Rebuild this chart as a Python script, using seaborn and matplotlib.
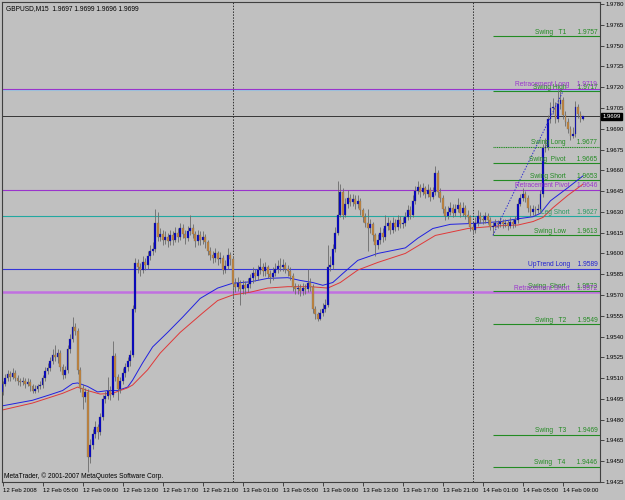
import numpy as np
import pandas as pd
import matplotlib
matplotlib.use("Agg")
import matplotlib.pyplot as plt
import matplotlib.transforms as mtransforms
import seaborn as sns

symbol_title = "GBPUSD,M15  1.9697 1.9699 1.9696 1.9699"
copyright_text = "MetaTrader, \u00a9 2001-2007 MetaQuotes Software Corp."

# prices in pips above 1.9400, one M15 bar each, 12 Feb 01:00 .. 14 Feb 11:00
base_price = 1.9400
pip = 0.0001
first_open_pips = 100
close_pips = [
    106, 110, 113, 111, 114, 110, 108, 107, 108, 106, 107, 104, 101, 102, 104, 105,
    110, 115, 117, 122, 127, 125, 128, 118, 112, 116,
    131, 138, 147, 144, 116, 103, 96, 100, 53, 62,
    70, 75, 71, 82, 95, 97, 101, 98, 126, 111,
    102, 108, 114, 118, 122, 127, 160, 193, 190, 188,
    194, 192, 198, 202, 203, 222, 212, 214, 210, 212,
    209, 213, 210, 215, 212, 218, 214, 211, 216, 218,
    214, 209, 213, 210, 212, 208, 202, 199, 197, 200,
    196, 197, 188, 191, 199, 196, 178, 176, 179, 174,
    177, 175, 178, 182, 186, 184, 188, 190, 187, 190,
    185, 183, 186, 189, 191, 190, 192, 189, 187, 184,
    176, 174, 175, 173, 175, 174, 179, 176, 160, 156,
    153, 157, 160, 163, 190, 192, 203, 215, 228, 244,
    228, 236, 240, 237, 239, 236, 238, 231, 226, 222,
    218, 221, 213, 206, 210, 215, 212, 220, 222, 217,
    222, 219, 224, 221, 222, 226, 231, 228, 238, 245,
    248, 244, 247, 243, 246, 241, 244, 258, 244, 240,
    232, 227, 230, 233, 229, 232, 235, 229, 233, 228,
    226, 219, 217, 222, 227, 225, 224, 227, 224, 219,
    220, 222, 221, 223, 221, 222, 220, 223, 221, 224,
    236, 240, 243, 240, 233, 230, 232, 231, 232, 243,
    276, 277, 297, 305, 306, 297, 308, 311, 300, 295,
    290, 285, 286, 306, 301, 297, 299,
]
high_pips = [
    108, 113, 116, 115, 117, 116, 112, 110, 111, 110, 110, 109, 106, 105, 106, 108,
    112, 118, 121, 125, 131, 134, 131, 130, 120, 119,
    134, 142, 154, 150, 146, 118, 106, 103, 102, 66,
    73, 79, 77, 85, 98, 101, 111, 104, 137, 128,
    113, 111, 117, 121, 125, 130, 163, 197, 196, 193,
    198, 197, 202, 206, 208, 232, 230, 218, 217, 216,
    215, 217, 216, 219, 218, 222, 221, 217, 220, 228,
    221, 216, 217, 216, 216, 214, 210, 205, 202, 204,
    202, 201, 199, 195, 204, 201, 198, 182, 183, 181,
    181, 180, 182, 185, 190, 189, 192, 197, 193, 194,
    192, 188, 190, 193, 195, 197, 196, 194, 192, 190,
    186, 179, 178, 178, 179, 178, 189, 182, 178, 162,
    158, 160, 164, 167, 206, 198, 207, 219, 252, 250,
    247, 240, 246, 243, 243, 242, 242, 240, 233, 229,
    232, 225, 223, 215, 214, 219, 218, 228, 226, 224,
    226, 225, 228, 227, 226, 230, 235, 234, 242, 249,
    252, 250, 251, 249, 250, 248, 248, 263, 260, 247,
    242, 234, 234, 237, 236, 236, 240, 237, 237, 235,
    231, 228, 222, 226, 231, 230, 228, 230, 229, 226,
    223, 225, 224, 226, 225, 225, 224, 226, 225, 227,
    239, 243, 247, 245, 242, 235, 235, 234, 236, 246,
    279, 283, 300, 309, 312, 309, 318, 318, 313, 303,
    298, 292, 291, 310, 308, 303, 299,
]
low_pips = [
    98, 104, 108, 108, 109, 108, 105, 104, 105, 103, 104, 101, 99, 99, 100, 102,
    103, 108, 113, 115, 120, 122, 121, 115, 109, 110,
    114, 128, 136, 141, 113, 100, 88, 93, 42, 49,
    59, 67, 66, 69, 80, 92, 95, 94, 96, 108,
    94, 99, 106, 111, 115, 119, 125, 158, 186, 184,
    186, 188, 189, 195, 199, 201, 209, 209, 206, 207,
    205, 206, 206, 208, 208, 210, 211, 207, 209, 213,
    211, 205, 206, 206, 207, 204, 199, 195, 193, 194,
    192, 193, 185, 186, 189, 192, 168, 172, 173, 163,
    171, 171, 172, 175, 179, 180, 181, 185, 184, 184,
    182, 179, 181, 184, 186, 187, 187, 186, 184, 181,
    173, 171, 171, 169, 170, 171, 172, 173, 157, 153,
    151, 152, 155, 158, 161, 187, 189, 201, 213, 226,
    225, 226, 233, 234, 234, 232, 233, 228, 223, 219,
    202, 215, 209, 198, 203, 207, 208, 210, 217, 214,
    215, 216, 217, 218, 218, 220, 224, 225, 226, 236,
    243, 241, 242, 240, 241, 238, 239, 242, 241, 237,
    229, 224, 225, 228, 226, 227, 230, 226, 227, 225,
    222, 216, 214, 215, 220, 222, 221, 222, 221, 217,
    213, 218, 218, 219, 218, 219, 217, 218, 218, 219,
    222, 234, 238, 237, 230, 227, 228, 228, 229, 230,
    241, 273, 275, 294, 301, 294, 295, 304, 297, 292,
    287, 282, 283, 284, 298, 295, 296,
]

# moving averages (bar index, pips)
ma_blue_bars = [0, 12, 19, 24, 28, 30, 34, 38, 42, 46, 50, 52, 56, 60, 66, 72, 79,
                86, 92, 99, 106, 114, 119, 124, 128, 132, 136, 142, 150, 161, 166,
                172, 179, 186, 192, 199, 206, 212, 215, 219, 226, 232]
ma_blue_pips = [90, 94, 98, 101, 106, 106.5, 104, 100, 101, 101, 103.5, 108.5, 121,
                132.5, 143, 154, 167.5, 175, 178.5, 179.5, 182, 182.5, 180.5, 179,
                177, 179, 185.5, 195, 200, 204, 211, 218, 221, 221.5, 222, 223, 225,
                226.5, 229, 238, 247.5, 256]
ma_red_bars = [0, 12, 24, 30, 34, 39, 44, 50, 52, 58, 63, 71, 80, 86, 92, 99, 106,
               114, 123, 130, 135, 142, 150, 161, 173, 186, 199, 206, 212, 216, 220,
               226, 232]
ma_red_pips = [87, 92, 99, 103.5, 101, 98.5, 99, 103, 105, 116, 128, 143, 157, 166,
               170, 172, 175, 176, 176, 175, 179, 188, 193.5, 200, 213, 218, 220,
               220.5, 223, 226, 233, 242, 250]

# chart objects
swing_names = ["Swing   T1", "Swing High", "Swing Long", "Swing  Pivot", "Swing Short",
               "Swing Low", "Swing  Short", "Swing   T2", "Swing   T3", "Swing   T4"]
swing_prices = [1.9757, 1.9717, 1.9677, 1.9665, 1.9653, 1.9613, 1.9573, 1.9549, 1.9469, 1.9446]
swing_start_bar = 196
level_names = ["Retracement Long", "Retracement Pivot", "Leg Short", "UpTrend Long",
               "Retracement Short"]
level_prices = [1.9719, 1.9646, 1.9627, 1.9589, 1.9572]
pale_line_price = 1.9718
current_price = 1.9699
trend_bars = [196, 224]
trend_prices = [1.9613, 1.9717]
day_separator_bars = [92, 188]
time_label_bars = [0, 16, 32, 48, 64, 80, 96, 112, 128, 144, 160, 176, 192, 208, 224]
time_labels = ["12 Feb 2008", "12 Feb 05:00", "12 Feb 09:00", "12 Feb 13:00",
               "12 Feb 17:00", "12 Feb 21:00", "13 Feb 01:00", "13 Feb 05:00",
               "13 Feb 09:00", "13 Feb 13:00", "13 Feb 17:00", "13 Feb 21:00",
               "14 Feb 01:00", "14 Feb 05:00", "14 Feb 09:00"]
price_ticks = [1.9435, 1.9450, 1.9465, 1.9480, 1.9495, 1.9510, 1.9525, 1.9540, 1.9555,
               1.9570, 1.9585, 1.9600, 1.9615, 1.9630, 1.9645, 1.9660, 1.9675, 1.9690,
               1.9705, 1.9720, 1.9735, 1.9750, 1.9765, 1.9780]

# styles
bg = "#c0c0c0"
green = "#238b23"
violet = "#9a34cc"
level_colors = {"Retracement Long": violet, "Retracement Pivot": violet,
                "Leg Short": "#22a8a0", "UpTrend Long": "#3434d8",
                "Retracement Short": "#c070e0"}
level_widths = {"Retracement Long": 0.8, "Retracement Pivot": 0.8, "Leg Short": 0.8,
                "UpTrend Long": 0.8, "Retracement Short": 1.8}
level_text_colors = {"Retracement Long": violet, "Retracement Pivot": violet,
                     "Leg Short": "#2a9a60", "UpTrend Long": "#2020d0",
                     "Retracement Short": violet}

sns.set_theme(style="white")
plt.rcParams["font.family"] = ["Liberation Sans", "DejaVu Sans"]
fs = 4.8
tick_fs = 4.3

df = pd.DataFrame({
    "bar": np.arange(len(close_pips)),
    "close": base_price + pip * np.array(close_pips, dtype=float),
    "high": base_price + pip * np.array(high_pips, dtype=float),
    "low": base_price + pip * np.array(low_pips, dtype=float),
})
df["open"] = base_price + pip * np.array([first_open_pips] + close_pips[:-1], dtype=float)
up = df["close"] >= df["open"]

fig = plt.figure(figsize=(6.25, 5.0), dpi=100, facecolor=bg)
ax = fig.add_axes([2 / 625, 18 / 500, 598 / 625, 480 / 500])
ax.set_facecolor(bg)

# levels behind candles
ax.axhline(pale_line_price, color="#9cc8dc", lw=0.8, zorder=1)
for name, p in zip(level_names, level_prices):
    ax.axhline(p, color=level_colors[name], lw=level_widths[name], zorder=1)
ax.axhline(current_price, color="#202020", lw=0.6, zorder=1)
for b in day_separator_bars:
    ax.axvline(b, color="#303030", lw=0.7, ls=(0, (1.5, 1.5)), zorder=1)
for name, p in zip(swing_names, swing_prices):
    ls = (0, (1, 0.6)) if name == "Swing Long" else "-"
    ax.hlines(p, swing_start_bar, 245, color=green, lw=0.8, ls=ls, zorder=1)

# moving averages
sns.lineplot(x=ma_blue_bars, y=base_price + pip * np.array(ma_blue_pips), color="#2020e0",
             lw=0.7, ax=ax, zorder=2)
sns.lineplot(x=ma_red_bars, y=base_price + pip * np.array(ma_red_pips), color="#e03838",
             lw=0.7, ax=ax, zorder=2)

# candles
ax.vlines(df["bar"], df["low"], df["high"], color="#6a6a6a", lw=0.6, zorder=3)
body = (df["close"] - df["open"]).abs().clip(lower=0.00004)
bottom = df[["open", "close"]].min(axis=1)
ax.bar(df["bar"][up], body[up], bottom=bottom[up], width=0.75, color="#0000c8",
       edgecolor="#404060", lw=0.2, zorder=4)
ax.bar(df["bar"][~up], body[~up], bottom=bottom[~up], width=0.75, color="#c4843a",
       edgecolor="#6a6a6a", lw=0.2, zorder=4)

# trend line
ax.plot(trend_bars, trend_prices, color="#3030d0", lw=0.7, ls=(0, (1.5, 1.5)), zorder=5)

# labels of objects
trans = mtransforms.blended_transform_factory(ax.transAxes, ax.transData)
tx = 0.9955
for name, p in zip(swing_names, swing_prices):
    ax.annotate(f"{name}      {p:.4f}", (tx, p), xycoords=trans, xytext=(0, 0.3),
                textcoords="offset points", ha="right", va="bottom", fontsize=fs,
                color=green, zorder=6)
for name, p in zip(level_names, level_prices):
    ax.annotate(f"{name}    {p:.4f}", (tx, p), xycoords=trans, xytext=(0, 0.3),
                textcoords="offset points", ha="right", va="bottom", fontsize=fs,
                color=level_text_colors[name], zorder=6)

ax.text(0.006, 0.993, symbol_title, transform=ax.transAxes, ha="left", va="top",
        fontsize=fs, color="black")
ax.text(0.003, 0.004, copyright_text, transform=ax.transAxes, ha="left", va="bottom",
        fontsize=fs, color="black")

# axes
ax.set_xlim(-0.2, 238.8)
ax.set_ylim(1.94350, 1.97815)
ax.yaxis.tick_right()
ax.set_yticks(price_ticks)
ax.set_yticklabels([f"{p:.4f}" for p in price_ticks])
ax.set_xticks(time_label_bars)
ax.set_xticklabels(time_labels, ha="left")
ax.tick_params(axis="both", direction="out", length=3, width=0.6, color="#303030",
               labelsize=tick_fs, labelcolor="black", pad=1.0)
ax.tick_params(axis="y", right=True, left=False)
ax.tick_params(axis="x", bottom=True)
ax.set_xlabel("")
ax.set_ylabel("")
for s in ax.spines.values():
    s.set_visible(True)
    s.set_color("#404040")
    s.set_linewidth(0.8)

ax.text(1.004, current_price, f"{current_price:.4f}", transform=trans, ha="left",
        va="center", fontsize=tick_fs, color="white",
        bbox=dict(facecolor="black", edgecolor="black", pad=0.8), zorder=7, clip_on=False)

fig.savefig("out.png", dpi=100, facecolor=bg)
